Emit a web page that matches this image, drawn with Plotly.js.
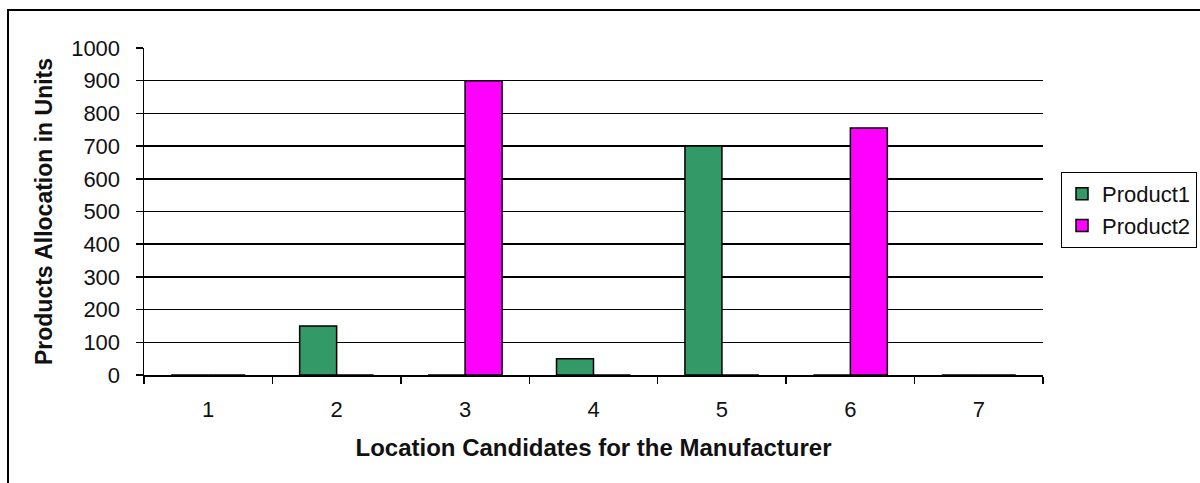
<!DOCTYPE html>
<html>
<head>
<meta charset="utf-8">
<script src="https://cdn.plot.ly/plotly-3.0.1.min.js"></script>
<style>
html,body{margin:0;padding:0;background:#fff;}
#chart{width:1200px;height:483px;}
</style>
</head>
<body>
<div id="chart"></div>
<script>
const categories = ['1', '2', '3', '4', '5', '6', '7'];
const product1 = [0, 150, 0, 50, 700, 0, 0];
const product2 = [0, 0, 900, 0, 0, 755, 0];
const yTickVals = [0, 100, 200, 300, 400, 500, 600, 700, 800, 900, 1000];
const gridVals = [100, 200, 300, 400, 500, 600, 700, 800, 900];

const FONT = 'Arial, "Liberation Sans", sans-serif';

const traces = [
  {
    type: 'bar', name: 'Product1', x: categories, y: product1,
    marker: {color: '#339966', line: {color: '#000', width: 1.5}}
  },
  {
    type: 'bar', name: 'Product2', x: categories, y: product2,
    marker: {color: '#FF00FF', line: {color: '#000', width: 1.5}}
  },
  {
    type: 'scatter', mode: 'markers', x: categories, y: categories.map(() => null),
    yaxis: 'y2', showlegend: false, hoverinfo: 'skip'
  }
];

const L = 144, R = 1043, T = 48, B = 375;
const W = R - L, H = B - T;
function px(x) { return (x - L) / W; }
function py(y) { return (B - y) / H; }

const layout = {
  width: 1200, height: 483,
  margin: {l: L, r: 1200 - R, t: T, b: 483 - B, pad: 0, autoexpand: false},
  paper_bgcolor: '#fff', plot_bgcolor: 'rgba(0,0,0,0)',
  font: {family: FONT, color: '#111', size: 22},
  barmode: 'group', bargap: 0.424, bargroupgap: 0,
  showlegend: true,
  legend: {
    xref: 'container', yref: 'container',
    x: 1061 / 1200, y: 1 - 210 / 483, xanchor: 'left', yanchor: 'middle',
    bordercolor: '#000', borderwidth: 1, bgcolor: '#fff',
    font: {family: FONT, size: 22, color: '#111'}
  },
  xaxis: {
    type: 'category', tickson: 'boundaries', automargin: false,
    showline: true, linecolor: '#000', linewidth: 1.5,
    ticks: 'outside', ticklen: 7, tickcolor: '#000', tickwidth: 1.5,
    ticklabelstandoff: 14,
    showgrid: false, zeroline: false,
    tickfont: {family: FONT, size: 22, color: '#111'},
    title: {text: 'Location Candidates for the Manufacturer', standoff: 18,
            font: {family: FONT, size: 24, color: '#111', weight: 'bold'}}
  },
  yaxis: {
    range: [0, 1000], tickmode: 'array', tickvals: yTickVals, automargin: false,
    showline: true, linecolor: '#000', linewidth: 1.5,
    ticks: 'outside', ticklen: 7, tickcolor: '#000', tickwidth: 1.5,
    ticklabelstandoff: 11,
    showgrid: false, zeroline: false,
    tickfont: {family: FONT, size: 22, color: '#111'},
    title: {text: 'Products Allocation in Units', standoff: 12,
            font: {family: FONT, size: 23, color: '#111', weight: 'bold'}}
  },
  yaxis2: {
    overlaying: 'y', anchor: 'x', side: 'left', automargin: false,
    range: [0, 1000], tickmode: 'array', tickvals: gridVals,
    showgrid: true, gridcolor: '#000', gridwidth: 1.5,
    showticklabels: false, ticks: '', showline: false, zeroline: false
  },
  shapes: [
    {type: 'rect', xref: 'paper', yref: 'paper', layer: 'below',
     x0: px(8), x1: px(1215), y0: py(10), y1: py(500),
     line: {color: '#000', width: 2}, fillcolor: 'rgba(0,0,0,0)'}
  ]
};

Plotly.newPlot('chart', traces, layout, {displayModeBar: false, staticPlot: true});
</script>
</body>
</html>
